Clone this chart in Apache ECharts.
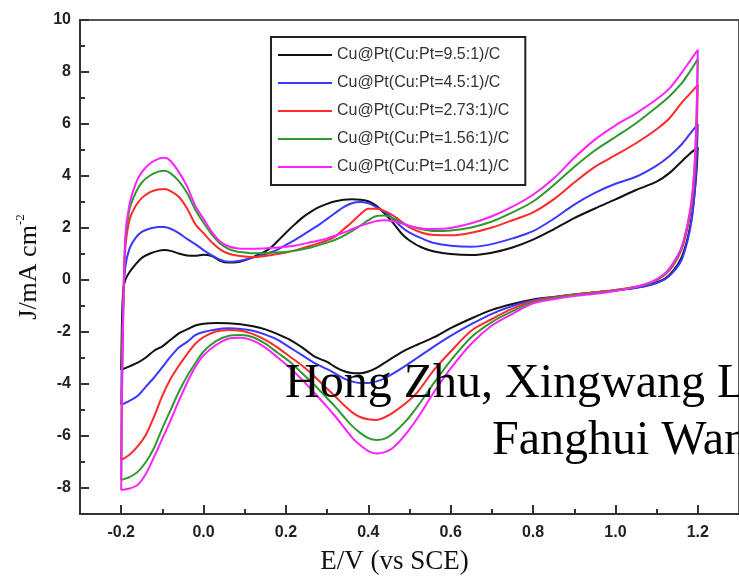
<!DOCTYPE html>
<html>
<head>
<meta charset="utf-8">
<script src="https://cdn.jsdelivr.net/npm/echarts@6/dist/echarts.min.js"></script>
<style>
  html, body { margin: 0; padding: 0; background: #fff; }
  #chart { width: 739px; height: 580px; }
</style>
</head>
<body>
<div id="chart"></div>
<script>
// Cyclic voltammograms of Cu@Pt/C catalysts: forward (anodic) scan from -0.2 V to 1.2 V,
// then reverse (cathodic) scan back to -0.2 V.

// Potentials of the forward scan (V vs SCE)
const anodicE = [-0.2, -0.198, -0.195, -0.19, -0.18, -0.165, -0.15, -0.13, -0.11, -0.095,
  -0.08, -0.06, -0.04, -0.02, 0, 0.02, 0.04, 0.06, 0.08, 0.1,
  0.12, 0.14, 0.16, 0.18, 0.2, 0.22, 0.24, 0.26, 0.28, 0.3,
  0.32, 0.34, 0.36, 0.38, 0.4, 0.42, 0.44, 0.46, 0.48, 0.5,
  0.53, 0.56, 0.6, 0.65, 0.7, 0.75, 0.8, 0.85, 0.9, 0.95,
  1.0, 1.05, 1.1, 1.13, 1.16, 1.18, 1.2];

// Potentials of the reverse scan (V vs SCE)
const cathodicE = [1.197, 1.192, 1.185, 1.175, 1.16, 1.14, 1.12, 1.09, 1.05, 1.0,
  0.95, 0.9, 0.85, 0.8, 0.75, 0.7, 0.65, 0.6, 0.56, 0.52,
  0.49, 0.46, 0.44, 0.42, 0.4, 0.38, 0.36, 0.34, 0.32, 0.3,
  0.27, 0.24, 0.21, 0.18, 0.15, 0.12, 0.09, 0.06, 0.03, 0,
  -0.02, -0.04, -0.06, -0.08, -0.1, -0.12, -0.14, -0.16, -0.18, -0.2];

// Current density J (mA cm^-2)
const j95Anodic = [-3.46, -1.5, -0.4, 0.0, 0.3, 0.6, 0.85, 1.02, 1.12, 1.15,
  1.12, 1.02, 0.94, 0.93, 0.97, 0.92, 0.74, 0.67, 0.68, 0.76,
  0.88, 1.02, 1.2, 1.5, 1.82, 2.12, 2.4, 2.62, 2.8, 2.93,
  3.03, 3.09, 3.11, 3.09, 3.03, 2.85, 2.55, 2.2, 1.8, 1.52,
  1.25, 1.1, 1.0, 0.96, 1.05, 1.25, 1.55, 1.95, 2.38, 2.75,
  3.1, 3.46, 3.78, 4.1, 4.55, 4.85, 5.1];
const j95Cathodic = [4.2, 3.3, 2.4, 1.6, 0.85, 0.35, 0.05, -0.15, -0.3, -0.4,
  -0.48, -0.56, -0.65, -0.75, -0.92, -1.15, -1.48, -1.85, -2.2, -2.48,
  -2.7, -2.98, -3.18, -3.38, -3.52, -3.59, -3.58, -3.5, -3.35, -3.15,
  -2.95, -2.6, -2.3, -2.08, -1.9, -1.78, -1.7, -1.66, -1.65, -1.68,
  -1.75, -1.9, -2.05, -2.3, -2.55, -2.72, -2.98, -3.18, -3.32, -3.46];

const j45Anodic = [-4.8, -2.5, -0.8, 0.5, 1.2, 1.62, 1.85, 1.98, 2.04, 2.04,
  1.97, 1.8, 1.58, 1.38, 1.15, 0.95, 0.78, 0.7, 0.72, 0.78,
  0.86, 0.95, 1.05, 1.17, 1.35, 1.52, 1.72, 1.92, 2.12, 2.35,
  2.58, 2.8, 2.95, 3.0, 2.95, 2.8, 2.62, 2.35, 2.05, 1.82,
  1.6, 1.42, 1.32, 1.28, 1.38, 1.6, 1.88, 2.35, 2.9, 3.35,
  3.7, 3.97, 4.4, 4.75, 5.2, 5.6, 6.0];
const j45Cathodic = [4.6, 3.3, 2.3, 1.5, 0.75, 0.3, 0.02, -0.17, -0.3, -0.4,
  -0.48, -0.56, -0.66, -0.78, -1.0, -1.3, -1.7, -2.15, -2.55, -2.98,
  -3.3, -3.6, -3.78, -3.9, -3.96, -3.96, -3.9, -3.78, -3.6, -3.43,
  -3.2, -2.9, -2.6, -2.3, -2.1, -1.95, -1.88, -1.86, -1.9, -2.0,
  -2.12, -2.38, -2.6, -2.95, -3.35, -3.75, -4.1, -4.45, -4.65, -4.8];

const j273Anodic = [-6.92, -3.5, -1.0, 1.2, 2.3, 2.85, 3.15, 3.38, 3.48, 3.5,
  3.42, 3.2, 2.75, 2.15, 1.8, 1.45, 1.18, 1.02, 0.94, 0.9,
  0.88, 0.9, 0.95, 1.0, 1.06, 1.13, 1.22, 1.32, 1.42, 1.53,
  1.68, 1.95, 2.22, 2.52, 2.74, 2.74, 2.65, 2.48, 2.25, 2.02,
  1.82, 1.73, 1.72, 1.82, 2.02, 2.3, 2.6, 3.1, 3.75, 4.35,
  4.8, 5.26, 5.8, 6.2, 6.8, 7.15, 7.5];
const j273Cathodic = [5.6, 4.0, 2.9, 2.0, 1.15, 0.55, 0.2, -0.08, -0.26, -0.38,
  -0.47, -0.56, -0.67, -0.82, -1.1, -1.5, -1.95, -2.75, -3.45, -4.3,
  -4.75, -5.1, -5.28, -5.38, -5.36, -5.27, -5.08, -4.8, -4.48, -4.18,
  -3.72, -3.3, -2.95, -2.6, -2.3, -2.08, -1.95, -1.92, -1.98, -2.2,
  -2.45, -2.85, -3.3, -3.8, -4.45, -5.25, -5.95, -6.4, -6.72, -6.92];

const j156Anodic = [-7.69, -4.0, -1.2, 1.5, 2.7, 3.35, 3.75, 4.02, 4.17, 4.2,
  4.1, 3.8, 3.35, 2.7, 2.2, 1.75, 1.4, 1.2, 1.1, 1.06,
  1.03, 1.03, 1.04, 1.06, 1.08, 1.12, 1.18, 1.25, 1.34, 1.44,
  1.55, 1.7, 1.88, 2.08, 2.3, 2.46, 2.48, 2.38, 2.22, 2.08,
  1.95, 1.88, 1.9, 2.02, 2.25, 2.6, 3.02, 3.65, 4.35, 4.98,
  5.5, 6.03, 6.65, 7.05, 7.55, 8.0, 8.5];
const j156Cathodic = [6.2, 4.3, 3.0, 2.1, 1.2, 0.6, 0.22, -0.07, -0.26, -0.4,
  -0.5, -0.58, -0.7, -0.86, -1.2, -1.62, -2.2, -3.1, -3.95, -4.85,
  -5.45, -5.9, -6.1, -6.15, -6.08, -5.88, -5.6, -5.25, -4.88, -4.55,
  -4.05, -3.6, -3.15, -2.8, -2.45, -2.2, -2.12, -2.15, -2.35, -2.75,
  -3.2, -3.7, -4.3, -5.0, -5.7, -6.45, -7.0, -7.38, -7.58, -7.69];

const j104Anodic = [-8.08, -4.5, -1.3, 1.7, 2.9, 3.7, 4.15, 4.48, 4.66, 4.7,
  4.58, 4.15, 3.6, 2.85, 2.35, 1.85, 1.48, 1.3, 1.22, 1.2,
  1.2, 1.21, 1.23, 1.25, 1.28, 1.32, 1.38, 1.45, 1.52, 1.6,
  1.7, 1.82, 1.95, 2.08, 2.18, 2.27, 2.3, 2.26, 2.18, 2.08,
  1.98, 1.96, 2.0, 2.18, 2.45, 2.82, 3.28, 3.9, 4.7, 5.4,
  5.95, 6.41, 6.95, 7.35, 7.95, 8.4, 8.85];
const j104Cathodic = [6.4, 4.4, 3.1, 2.15, 1.25, 0.65, 0.25, -0.05, -0.26, -0.42,
  -0.53, -0.62, -0.74, -0.9, -1.3, -1.75, -2.45, -3.4, -4.3, -5.3,
  -5.95, -6.45, -6.62, -6.67, -6.58, -6.35, -6.05, -5.65, -5.25, -4.88,
  -4.36, -3.85, -3.38, -2.98, -2.6, -2.33, -2.22, -2.26, -2.5, -2.9,
  -3.35, -3.95, -4.65, -5.4, -6.1, -6.8, -7.45, -7.88, -8.02, -8.08];

const seriesNames = [
  'Cu@Pt(Cu:Pt=9.5:1)/C',
  'Cu@Pt(Cu:Pt=4.5:1)/C',
  'Cu@Pt(Cu:Pt=2.73:1)/C',
  'Cu@Pt(Cu:Pt=1.56:1)/C',
  'Cu@Pt(Cu:Pt=1.04:1)/C'
];
const anodicSets = [j95Anodic, j45Anodic, j273Anodic, j156Anodic, j104Anodic];
const cathodicSets = [j95Cathodic, j45Cathodic, j273Cathodic, j156Cathodic, j104Cathodic];
const seriesColors = ['#111111', '#3a3aff', '#ff2a2a', '#2e9a2e', '#ff22ff'];

// Tick positions
const xMajorTicks = [-0.2, 0, 0.2, 0.4, 0.6, 0.8, 1.0, 1.2];
const xMinorTicks = [-0.1, 0.1, 0.3, 0.5, 0.7, 0.9, 1.1];
const yMajorTicks = [-8, -6, -4, -2, 0, 2, 4, 6, 8, 10];
const yMinorTicks = [-9, -7, -5, -3, -1, 1, 3, 5, 7, 9];

// One closed loop per catalyst: forward scan followed by reverse scan
function cvLoop(aJ, cJ) {
  const pts = [];
  anodicE.forEach((e, i) => pts.push([e, aJ[i]]));
  cathodicE.forEach((e, i) => pts.push([e, cJ[i]]));
  return pts;
}

const axisColor = '#333';
const tickLabelStyle = {
  color: '#222', fontFamily: 'Liberation Sans', fontSize: 16, fontWeight: 'bold'
};

const chart = echarts.init(document.getElementById('chart'));

chart.setOption({
  animation: false,
  backgroundColor: '#fff',
  grid: {
    left: 80, top: 20, width: 664, height: 494,
    show: true, borderColor: '#555', borderWidth: 2, backgroundColor: 'transparent'
  },
  legend: {
    orient: 'vertical', left: 271, top: 37,
    icon: 'rect', itemWidth: 54, itemHeight: 2, itemGap: 10,
    padding: [9, 16, 9, 7],
    borderColor: '#222', borderWidth: 2, backgroundColor: '#fff',
    textStyle: { fontFamily: 'Liberation Sans', fontSize: 16, color: '#333', lineHeight: 18 },
    data: seriesNames
  },
  xAxis: [{
    type: 'value', min: -0.3, max: 1.3,
    axisLine: { show: true, onZero: false, lineStyle: { color: axisColor, width: 2 } },
    axisTick: { show: true, inside: true, length: 9, customValues: xMajorTicks,
      lineStyle: { color: axisColor, width: 2 } },
    axisLabel: Object.assign({ customValues: xMajorTicks, margin: 11,
      formatter: v => v.toFixed(1) }, tickLabelStyle),
    splitLine: { show: false },
    name: 'E/V (vs SCE)', nameLocation: 'middle', nameGap: 34,
    nameTextStyle: { fontFamily: 'Liberation Serif', fontSize: 27, color: '#111', padding: [0, 30, 0, 0] }
  }, {
    type: 'value', min: -0.3, max: 1.3, position: 'bottom',
    axisLine: { show: false, onZero: false },
    axisTick: { show: true, inside: true, length: 5, customValues: xMinorTicks,
      lineStyle: { color: axisColor, width: 2 } },
    axisLabel: { show: false },
    splitLine: { show: false }
  }],
  yAxis: [{
    type: 'value', min: -9, max: 10,
    axisLine: { show: true, onZero: false, lineStyle: { color: axisColor, width: 2 } },
    axisTick: { show: true, inside: true, length: 9, customValues: yMajorTicks,
      lineStyle: { color: axisColor, width: 2 } },
    axisLabel: Object.assign({ customValues: yMajorTicks, margin: 9 }, tickLabelStyle),
    splitLine: { show: false },
    name: '{m|J/mA cm}{s|-2}', nameLocation: 'middle', nameGap: 30,
    nameTextStyle: {
      color: '#111',
      rich: {
        m: { fontFamily: 'Liberation Serif', fontSize: 26, lineHeight: 30, color: '#111' },
        s: { fontFamily: 'Liberation Serif', fontSize: 13, lineHeight: 14, verticalAlign: 'top', color: '#111' }
      }
    }
  }, {
    type: 'value', min: -9, max: 10, position: 'left',
    axisLine: { show: false, onZero: false },
    axisTick: { show: true, inside: true, length: 5, customValues: yMinorTicks,
      lineStyle: { color: axisColor, width: 2 } },
    axisLabel: { show: false },
    splitLine: { show: false }
  }],
  graphic: [{
    type: 'text', x: 285, y: 384, z: 100,
    style: { text: 'Hong Zhu, Xingwang Li,', font: '48px "Liberation Serif"', fill: '#000',
      textAlign: 'left', textVerticalAlign: 'middle' }
  }, {
    type: 'text', x: 492, y: 441, z: 100,
    style: { text: 'Fanghui Wang', font: '48px "Liberation Serif"', fill: '#000',
      textAlign: 'left', textVerticalAlign: 'middle' }
  }],
  series: seriesNames.map((name, k) => ({
    name: name, type: 'line', xAxisIndex: 0, yAxisIndex: 0,
    data: cvLoop(anodicSets[k], cathodicSets[k]),
    showSymbol: false, symbol: 'none', smooth: 0.3,
    lineStyle: { color: seriesColors[k], width: 2 },
    itemStyle: { color: seriesColors[k] }
  }))
});
</script>
</body>
</html>
